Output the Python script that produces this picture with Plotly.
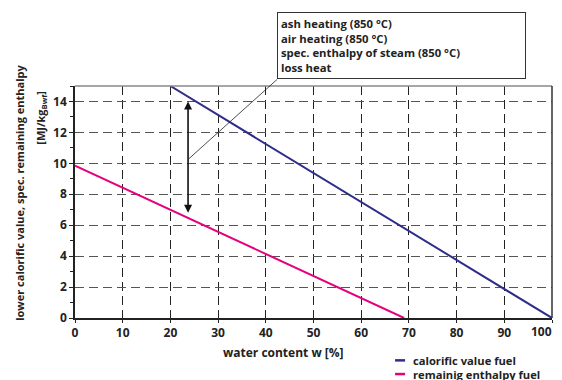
import plotly.graph_objects as go

# data
w_calorific = [20, 100]          # water content w [%]
calorific = [15.0, 0.0]          # lower calorific value [MJ/kg]
w_remaining = [0, 69]
remaining = [9.85, 0.0]          # spec. remaining enthalpy [MJ/kg]

arrow_w = 23.7
arrow_top, arrow_bottom, arrow_mid = 14.0, 6.7, 10.25

x_ticks = list(range(0, 101, 10))
y_ticks = list(range(0, 15, 2))

legend_names = ["calorific value fuel", "remainig enthalpy fuel"]

BLUE = "#2e2d8a"
PINK = "#e5007d"
FONT = "Open Sans"
TXT = "#222"
TICKFONT = dict(family=FONT, size=12, color=TXT, weight="bold")

box_text = "<br>".join([
    "ash heating (850 °C)",
    "air heating (850 °C)",
    "spec. enthalpy of steam (850 °C)",
    "loss heat",
])

fig = go.Figure()
fig.add_trace(go.Scatter(x=w_calorific, y=calorific, mode="lines", name=legend_names[0],
                         line=dict(color=BLUE, width=2), showlegend=False))
fig.add_trace(go.Scatter(x=w_remaining, y=remaining, mode="lines", name=legend_names[1],
                         line=dict(color=PINK, width=2), showlegend=False))

# double headed arrow between the two curves
fig.add_annotation(x=arrow_w, y=arrow_top, ax=arrow_w, ay=arrow_bottom, axref="x", ayref="y",
                   text="", showarrow=True, arrowside="end+start", arrowhead=2, arrowsize=1,
                   arrowwidth=1.6, arrowcolor="#111", standoff=0, startstandoff=0)

# callout box with leader line
fig.add_annotation(x=arrow_w, y=arrow_mid, ax=89, ay=-80, text=box_text, showarrow=True,
                   arrowhead=0, arrowwidth=0.8, arrowcolor="#222",
                   xanchor="left", yanchor="bottom", align="left",
                   font=dict(family=FONT, size=11.3, color=TXT, weight="bold"),
                   bordercolor="#333", borderwidth=1, borderpad=3, bgcolor="white", width=241)

# axis titles
fig.add_annotation(text="lower calorific value, spec. remaining enthalpy", xref="paper", yref="paper",
                   x=-0.116, y=0.538, xanchor="center", yanchor="middle", textangle=-90, showarrow=False,
                   font=dict(family=FONT, size=11, color=TXT, weight="bold"))
fig.add_annotation(text="[MJ/kg<sub>Bwf</sub>]", xref="paper", yref="paper",
                   x=-0.072, y=0.862, xanchor="center", yanchor="middle", textangle=-90, showarrow=False,
                   font=dict(family=FONT, size=11, color=TXT, weight="bold"))
fig.add_annotation(text="water content w [%]", xref="paper", yref="paper",
                   x=0.438, y=-0.148, xanchor="center", yanchor="middle", showarrow=False,
                   font=dict(family=FONT, size=12, color=TXT, weight="bold"))

# last x tick label sits at the page edge: draw it right-aligned so it isn't cut
x_ticktext = [str(v) for v in x_ticks[:-1]] + [""]
fig.add_annotation(text=str(x_ticks[-1]), x=x_ticks[-1], y=0, xanchor="right", yanchor="top",
                   xshift=2, yshift=-3, showarrow=False, font=TICKFONT)

# hand-made legend (short line samples, tight spacing like the reference)
for i, (name, col) in enumerate(zip(legend_names, [BLUE, PINK])):
    ly = -0.1826 - 0.059 * i
    fig.add_shape(type="line", xref="paper", yref="paper", x0=0.671, x1=0.692, y0=ly, y1=ly,
                  line=dict(color=col, width=2.5))
    fig.add_annotation(text=name, xref="paper", yref="paper", x=0.705, y=ly,
                       xanchor="left", yanchor="middle",
                       showarrow=False, font=dict(family=FONT, size=11.2, color=TXT, weight="bold"))

# frame: top gray, right dark
fig.add_shape(type="line", xref="paper", yref="paper", x0=0, x1=1, y0=1, y1=1,
              line=dict(color="#888", width=1.5))
fig.add_shape(type="line", xref="paper", yref="paper", x0=1, x1=1, y0=0, y1=1,
              line=dict(color="#333", width=1.5))

fig.update_xaxes(range=[0, 100], tickvals=x_ticks, ticktext=x_ticktext,
                 showline=True, linecolor="#222", linewidth=1.5,
                 ticks="outside", ticklen=3, tickcolor="#222",
                 showgrid=True, gridcolor="#222", gridwidth=1, griddash="9px,5px",
                 zeroline=False, tickfont=TICKFONT)
fig.update_yaxes(range=[0, 15], tickvals=y_ticks, showline=True, linecolor="#222", linewidth=1.5,
                 ticks="outside", ticklen=4, tickcolor="#222",
                 minor=dict(ticks="outside", ticklen=3, dtick=1, tick0=1, tickcolor="#222", showgrid=False),
                 showgrid=True, gridcolor="#555", gridwidth=1, griddash="9px,5px",
                 zeroline=False, tickfont=TICKFONT)

# page body has an 8px margin, so the figure is sized/offset to fit the window
fig.update_layout(
    width=554, height=372,
    margin=dict(l=67, r=10, t=78, b=62, autoexpand=False),
    plot_bgcolor="white", paper_bgcolor="white",
    showlegend=False,
)

fig.write_html("out.html")
